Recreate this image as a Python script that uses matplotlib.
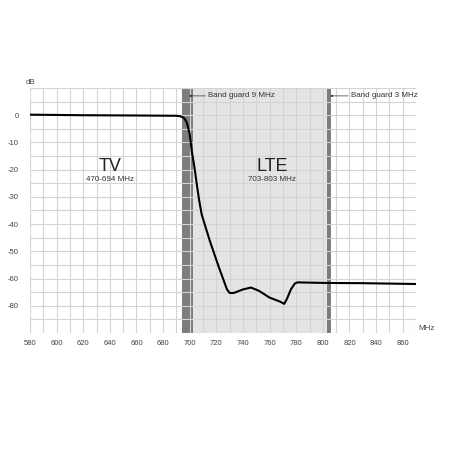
import matplotlib
matplotlib.use("Agg")
import matplotlib.pyplot as plt

plt.rcParams['font.family'] = ['DejaVu Sans Condensed', 'Liberation Sans Narrow', 'Liberation Sans', 'DejaVu Sans']

# filter response
freq = [580, 620, 660, 690, 693, 695, 696.5, 698, 700, 701.5, 703.5, 705.2, 707, 709,
        715, 722, 728, 730, 733, 740, 746, 752, 760, 768, 771, 773, 776, 779, 781,
        800, 830, 870]
atten = [0.2, 0.0, -0.1, -0.2, -0.4, -0.8, -1.5, -3, -7, -13, -19, -25, -31, -36.5,
         -46, -56, -64, -65.3, -65.3, -64, -63.3, -64.5, -67, -68.5, -69.3, -67.5,
         -64, -61.8, -61.4, -61.6, -61.7, -62]

xticks = list(range(580, 861, 20))
yticks = [0, -10, -20, -30, -40, -50, -60, -70]
ytick_labels = ['0', '-10', '-20', '-30', '-40', '-50', '-60', '-80']

guard1 = (694.5, 702.5)
lte = (702.5, 803.5)
guard2 = (803.5, 806.5)

fig = plt.figure(figsize=(4.5, 4.5), dpi=100)
ax = fig.add_axes([30 / 450, 1 - 333 / 450, 386 / 450, 245 / 450])

ax.axvspan(*lte, color='#e4e4e6', lw=0, zorder=0)
ax.axvspan(*guard1, color='#7d7d7d', lw=0, zorder=0.5)
ax.axvspan(*guard2, color='#7d7d7d', lw=0, zorder=0.5)

ax.set_xlim(580, 870)
ax.set_ylim(-80, 10)
ax.set_xticks(xticks)
ax.set_yticks(yticks)
ax.set_yticklabels(ytick_labels)
ax.set_xticks(range(580, 871, 10), minor=True)
ax.set_yticks(range(-80, 11, 5), minor=True)
ax.set_axisbelow(False)
ax.grid(which='both', color='#d4d4d4', lw=0.8, zorder=1)
for s in ax.spines.values():
    s.set_visible(False)
ax.tick_params(which='both', length=0, labelsize=5.5, labelcolor='#444444')
ax.tick_params(axis='y', pad=8)
ax.tick_params(axis='x', pad=5)

ax.plot(freq, atten, color='black', lw=1.5, zorder=3)

ax.text(640, -20.6, 'TV', fontsize=13, ha='center', va='baseline', color='#222222')
ax.text(640, -24.3, '470-694 MHz', fontsize=5.8, ha='center', va='baseline', color='#333333')
ax.text(762, -20.6, 'LTE', fontsize=13, ha='center', va='baseline', color='#222222')
ax.text(762, -24.3, '703-803 MHz', fontsize=5.8, ha='center', va='baseline', color='#333333')

ax.annotate('Band guard 9 MHz', xy=(699.3, 7.1), xytext=(714, 7.1), fontsize=5.8,
            va='center', color='#333333',
            arrowprops=dict(arrowstyle='-|>', color='#333333', lw=0.5,
                            mutation_scale=3, shrinkA=0, shrinkB=0))
ax.annotate('Band guard 3 MHz', xy=(805.5, 7.1), xytext=(821, 7.1), fontsize=5.8,
            va='center', color='#333333',
            arrowprops=dict(arrowstyle='-|>', color='#333333', lw=0.5,
                            mutation_scale=3, shrinkA=0, shrinkB=0))

fig.text(30 / 450, 1 - 82 / 450, 'dB', fontsize=5.8, ha='center', va='center', color='#444444')
fig.text(427 / 450, 1 - 328 / 450, 'MHz', fontsize=5.8, ha='center', va='center', color='#444444')

fig.savefig('out.png', dpi=100)
